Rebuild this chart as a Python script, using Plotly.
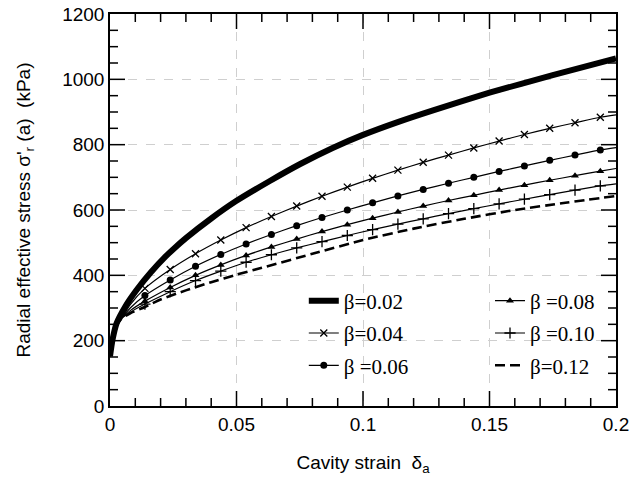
import plotly.graph_objects as go

# ---------------- data ----------------
beta_labels = ["β=0.02", "β=0.04", "β =0.06", "β =0.08", "β =0.10", "β=0.12"]

# thick curve beta=0.02
delta_02 = [0, 0.001, 0.0026, 0.006, 0.0105, 0.016, 0.022, 0.026, 0.03, 0.04, 0.05,
            0.063, 0.075, 0.088, 0.1, 0.114, 0.128, 0.15, 0.175, 0.2]
sigma_02 = [152, 203, 253, 304, 355, 408, 458, 487, 514, 574, 628,
            688, 740, 790, 830, 870, 906, 959, 1013, 1064]

# common start of the thin curves
delta_head = [0, 0.001, 0.0026, 0.0046, 0.008]
sigma_head = [152, 200, 245, 268]
sigma_008 = {"04": 310, "06": 300, "08": 292, "10": 287}

# marker positions for thin curves
delta_m = [0.0138, 0.0238, 0.0338, 0.0438, 0.0538, 0.0638, 0.0738, 0.0838, 0.0938,
           0.1038, 0.1138, 0.1238, 0.1338, 0.1438, 0.1538, 0.1638, 0.1738, 0.1838, 0.1938]
delta_end = 0.2

sigma_04 = [360, 418, 466, 508, 546, 580, 612, 642, 670, 697, 722, 746, 768, 790, 811, 831, 850, 867, 884]
sigma_06 = [338, 386, 428, 464, 496, 525, 552, 577, 600, 622, 643, 663, 682, 700, 718, 735, 752, 768, 784]
sigma_08 = [321, 363, 400, 432, 461, 487, 511, 534, 555, 575, 594, 612, 629, 645, 661, 676, 691, 705, 719]
sigma_10 = [312, 350, 384, 413, 440, 463, 484, 503, 522, 540, 557, 573, 589, 604, 619, 633, 647, 661, 674]
sigma_end = {"04": 891, "06": 791, "08": 727, "10": 680}

# dashed curve beta=0.12
delta_12 = [0, 0.001, 0.0026, 0.0046, 0.008, 0.0138, 0.02, 0.03, 0.04, 0.05, 0.06,
            0.08, 0.1, 0.12, 0.14, 0.16, 0.18, 0.2]
sigma_12 = [152, 200, 245, 268, 284, 303, 326, 354, 379, 402, 423,
            466, 508, 543, 573, 600, 622, 643]

# axis ticks
x_range = [0, 0.2]
y_range = [0, 1200]
x_major = [0.05, 0.1, 0.15]
x_minor_step = 0.01
y_major = [200, 400, 600, 800, 1000]
y_minor_step = 50

# ---------------- figure ----------------
fig = go.Figure()
BLACK = "#000000"
SANS = "Liberation Sans, Arial, sans-serif"
W, H = 633, 483
M = dict(l=110, r=17, t=14, b=77)
PLOT_W, PLOT_H = W - M["l"] - M["r"], H - M["t"] - M["b"]

# tick marks inside the frame on all four sides (major 15 px, minor 8 px)
tx, ty = [], []
n_x = int(round((x_range[1] - x_range[0]) / x_minor_step))
for i in range(1, n_x):
    xv = x_range[0] + i * x_minor_step
    L = (15 if any(abs(xv - m) < 1e-9 for m in x_major) else 8) / PLOT_H * (y_range[1] - y_range[0])
    tx += [xv, xv, None, xv, xv, None]
    ty += [y_range[0], y_range[0] + L, None, y_range[1], y_range[1] - L, None]
n_y = int(round((y_range[1] - y_range[0]) / y_minor_step))
for i in range(1, n_y):
    yv = y_range[0] + i * y_minor_step
    L = (15 if yv in y_major else 8) / PLOT_W * (x_range[1] - x_range[0])
    tx += [x_range[0], x_range[0] + L, None, x_range[1], x_range[1] - L, None]
    ty += [yv, yv, None, yv, yv, None]
fig.add_trace(go.Scatter(x=tx, y=ty, mode="lines", line=dict(color=BLACK, width=1.5),
                         showlegend=False, hoverinfo="skip", cliponaxis=False))

fig.add_trace(go.Scatter(x=delta_02, y=sigma_02, mode="lines", name=beta_labels[0],
                         line=dict(color=BLACK, width=6, shape="spline", smoothing=0.6),
                         legend="legend", legendgroup="g1"))

thin = [
    ("04", sigma_04, beta_labels[1], dict(symbol="x-thin", size=7, line=dict(width=1.3, color=BLACK)), "legend", "g2"),
    ("06", sigma_06, beta_labels[2], dict(symbol="circle", size=7, color=BLACK), "legend", "g3"),
    ("08", sigma_08, beta_labels[3], dict(symbol="triangle-up", size=7, color=BLACK), "legend2", "g4"),
    ("10", sigma_10, beta_labels[4], dict(symbol="cross-thin", size=8, line=dict(width=1.3, color=BLACK)), "legend2", "g5"),
]
for key, sig, name, mk, leg, grp in thin:
    xs = delta_head + delta_m + [delta_end]
    ys = sigma_head + [sigma_008[key]] + sig + [sigma_end[key]]
    fig.add_trace(go.Scatter(x=xs, y=ys, mode="lines", showlegend=False,
                             line=dict(color=BLACK, width=1.2, shape="spline", smoothing=0.6),
                             hoverinfo="skip"))
    fig.add_trace(go.Scatter(x=delta_m, y=sig, mode="markers", name=name,
                             marker=mk, legend=leg, legendgroup=grp, showlegend=False))
    fig.add_trace(go.Scatter(x=[None], y=[None], mode="lines+markers", name=name,
                             line=dict(color=BLACK, width=1.2), marker=mk,
                             legend=leg, legendgroup=grp))

fig.add_trace(go.Scatter(x=delta_12, y=sigma_12, mode="lines", name=beta_labels[5],
                         line=dict(color=BLACK, width=2.6, dash="10px,5px", shape="spline", smoothing=0.6),
                         legend="legend2", legendgroup="g6"))

axis_common = dict(
    tickmode="linear", tick0=0, automargin=False, ticklabeloverflow="allow",
    showline=True, linecolor=BLACK, linewidth=1.5, mirror=True,
    ticks="", ticklen=0,
    showgrid=True, gridcolor="#cfcfcf", griddash="dash", gridwidth=1,
    zeroline=False, tickfont=dict(family=SANS, size=19, color=BLACK),
)

fig.update_xaxes(range=x_range, dtick=0.05,
                 title=dict(text="Cavity strain  δ<sub>a</sub>", standoff=22,
                            font=dict(family=SANS, size=19, color=BLACK)),
                 **axis_common)
fig.update_yaxes(range=y_range, dtick=200,
                 title=dict(text="Radial effective stress σ'<sub>r</sub> (a)  (kPa)", standoff=27,
                            font=dict(family=SANS, size=19, color=BLACK)),
                 **axis_common)

legend_common = dict(
    orientation="v", xanchor="left", yanchor="top", bgcolor="rgba(255,255,255,0)",
    borderwidth=0, font=dict(family="Liberation Serif, Times New Roman, serif", size=21, color=BLACK),
    tracegroupgap=2, itemwidth=30,
)
fig.update_layout(
    width=W, height=H,
    margin=M,
    paper_bgcolor="white", plot_bgcolor="white",
    legend=dict(x=0.383, y=0.32, **legend_common),
    legend2=dict(x=0.751, y=0.32, **legend_common),
)

# remove the page's default 8px body margin so the figure fills the window
fig.write_html("out.html", config={"displayModeBar": False},
               post_script="document.body.style.margin='0';")
